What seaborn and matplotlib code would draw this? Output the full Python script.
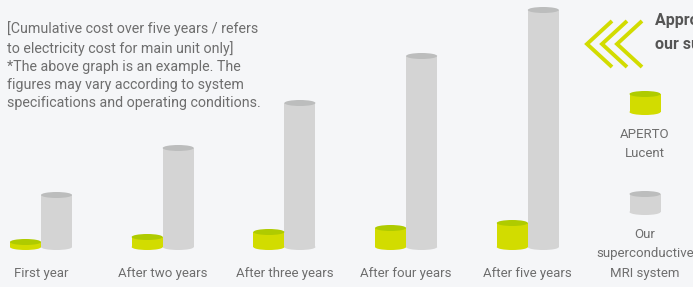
import matplotlib
matplotlib.use("Agg")
import matplotlib.pyplot as plt
from matplotlib.patches import Ellipse, Rectangle
from matplotlib import font_manager as fm
import seaborn as sns
import pandas as pd

# ---- data (arbitrary cost units) ----
periods = ["First year", "After two years", "After three years", "After four years", "After five years"]
aperto_cost = [5, 10, 15, 19, 24]
supercond_cost = [52, 99, 144, 191, 237]
series_names = ["APERTO Lucent", "Our superconductive MRI system"]
legend_labels = ["APERTO\nLucent", "Our\nsuperconductive\nMRI system"]
note_text = ("[Cumulative cost over five years / refers\n"
             "to electricity cost for main unit only]\n"
             "*The above graph is an example. The\n"
             "figures may vary according to system\n"
             "specifications and operating conditions.")
title_text = "Approximate cost compared with\nour superconductive MRI system"

BG = "#f5f6f8"
YEL_BODY, YEL_TOP = "#d2dc00", "#afcb00"
GRY_BODY, GRY_TOP = "#d4d4d4", "#bcbdbd"
TXT = "#6e6e6e"

names = {f.name for f in fm.fontManager.ttflist}
FONT = "Liberation Sans Narrow" if "Liberation Sans Narrow" in names else "Roboto"

sns.set_theme(style="white")
plt.rcParams["font.family"] = [FONT, "DejaVu Sans"]

df = pd.DataFrame({
    "period": periods * 2,
    "cost": aperto_cost + supercond_cost,
    "system": [series_names[0]] * len(periods) + [series_names[1]] * len(periods),
})

W, H = 693, 287
fig = plt.figure(figsize=(W / 100, H / 100), dpi=100, facecolor=BG)
ax = fig.add_axes([0, 0, 1, 1])
ax.set_facecolor(BG)

sns.barplot(data=df, x="period", y="cost", hue="system", hue_order=series_names,
            palette=[YEL_BODY, GRY_BODY], width=0.51, gap=0, errorbar=None,
            saturation=1, legend=False, ax=ax, linewidth=0)

step = 121.7
x0px = 41.0
ax.set_xlim(-x0px / step, (W - x0px) / step)
ax.set_ylim(-(H - 247), 247)
ax.axis("off")

EH = 6.0
n = len(periods)
for i, p in enumerate(ax.patches[:2 * n]):
    yellow = i < n
    body = YEL_BODY if yellow else GRY_BODY
    top = YEL_TOP if yellow else GRY_TOP
    z = 3 if yellow else 2
    p.set_zorder(z)
    cx = p.get_x() + p.get_width() / 2
    w = p.get_width()
    h = p.get_height()
    ax.add_patch(Ellipse((cx, 0), w, EH, facecolor=body, edgecolor="none", zorder=z))
    ax.add_patch(Ellipse((cx, h), w, EH, facecolor=top, edgecolor="none", zorder=z + 0.1))

for i, lab in enumerate(periods):
    ax.text(i, -(273 - 247), lab, ha="center", va="center", fontsize=9.5, color=TXT)

# overlay in pixel coordinates for text & legend
ov = fig.add_axes([0, 0, 1, 1], facecolor="none")
ov.set_xlim(0, W)
ov.set_ylim(H, 0)
ov.axis("off")

ov.text(7, 21.5, note_text, ha="left", va="top", fontsize=10.3, color=TXT, linespacing=1.36)

# chevrons
for dx in (0, 15, 30):
    ov.plot([612 + dx, 587 + dx, 612 + dx], [21, 44, 67], color=YEL_BODY, lw=2.8,
            solid_capstyle="butt", solid_joinstyle="miter")

ov.text(655, 32, title_text, ha="left", va="center", fontsize=11.5, color="#555555",
        fontweight="bold", linespacing=1.75)


def cyl(cx, ytop, ybot, w, body, top):
    ov.add_patch(Rectangle((cx - w / 2, ytop), w, ybot - ytop, facecolor=body, edgecolor="none"))
    ov.add_patch(Ellipse((cx, ybot), w, 6, facecolor=body, edgecolor="none"))
    ov.add_patch(Ellipse((cx, ytop), w, 6, facecolor=top, edgecolor="none"))


cyl(645, 94, 112, 31, YEL_BODY, YEL_TOP)
cyl(645, 194, 212, 31, GRY_BODY, GRY_TOP)
ov.text(645, 144, legend_labels[0], ha="center", va="center", fontsize=9.5, color=TXT, linespacing=1.6)
ov.text(645, 254, legend_labels[1], ha="center", va="center", fontsize=9.5, color=TXT, linespacing=1.6)

fig.savefig("out.png", dpi=100, facecolor=BG)
